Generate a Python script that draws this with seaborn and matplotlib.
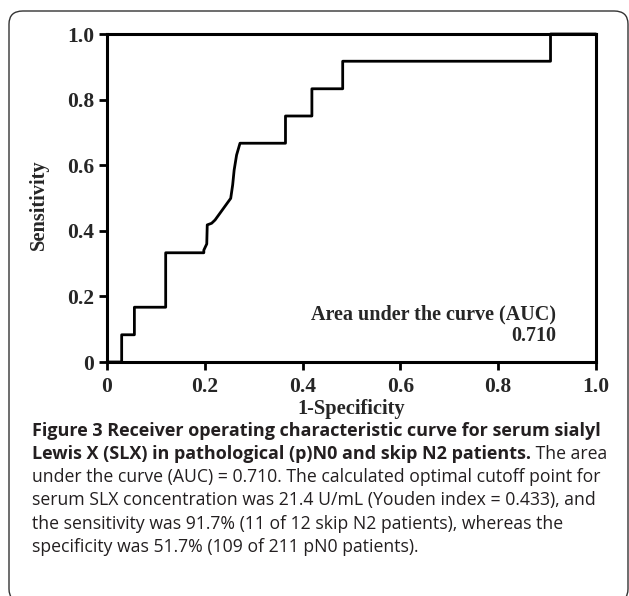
import matplotlib
matplotlib.use("Agg")
import matplotlib.pyplot as plt
import seaborn as sns
import pandas as pd
from matplotlib.patches import FancyBboxPatch

# ROC curve points (1-specificity, sensitivity)
fpr = [0.0, 0.030, 0.030, 0.056, 0.056, 0.120, 0.120, 0.198, 0.198, 0.204,
       0.205, 0.214, 0.221, 0.253, 0.257, 0.260, 0.265, 0.272, 0.365, 0.365,
       0.419, 0.419, 0.482, 0.482, 0.907, 0.907, 1.0]
tpr = [0.0, 0.0, 0.083, 0.083, 0.167, 0.167, 0.333, 0.333, 0.341, 0.36,
       0.418, 0.423, 0.433, 0.499, 0.54, 0.585, 0.631, 0.667, 0.667, 0.75,
       0.75, 0.833, 0.833, 0.917, 0.917, 1.0, 1.0]
ticks = [0, 0.2, 0.4, 0.6, 0.8, 1.0]
tick_labels = ["0", "0.2", "0.4", "0.6", "0.8", "1.0"]
auc_label = "Area under the curve (AUC)"
auc_value = "0.710"

caption_bold_1 = "Figure 3 Receiver operating characteristic curve for serum sialyl"
caption_bold_2 = "Lewis X (SLX) in pathological (p)N0 and skip N2 patients."
caption_rest_2 = " The area"
caption_lines = [
    "under the curve (AUC) = 0.710. The calculated optimal cutoff point for",
    "serum SLX concentration was 21.4 U/mL (Youden index = 0.433), and",
    "the sensitivity was 91.7% (11 of 12 skip N2 patients), whereas the",
    "specificity was 51.7% (109 of 211 pN0 patients).",
]

df = pd.DataFrame({"fpr": fpr, "tpr": tpr})

sns.set_style("ticks")
plt.rcParams["font.family"] = ["Liberation Serif", "DejaVu Serif"]

fig = plt.figure(figsize=(6.29, 5.96), dpi=100)
W, H = 629, 596

# rounded frame around the whole figure panel
frame = FancyBboxPatch((9 / W, -6 / H), 619 / W, (H - 11 + 6) / H,
                       boxstyle="round,pad=0,rounding_size=0.022",
                       transform=fig.transFigure, fill=False,
                       edgecolor="#333333", linewidth=1.0)
fig.patches.append(frame)

ax = fig.add_axes([107 / W, 1 - 362 / H, (596 - 107) / W, (362 - 34) / H])
sns.lineplot(data=df, x="fpr", y="tpr", sort=False, estimator=None,
             color="black", linewidth=2.0, ax=ax, clip_on=False)

ax.set_xlim(0, 1)
ax.set_ylim(0, 1)
ax.set_xticks(ticks)
ax.set_yticks(ticks)
ax.set_xticklabels(tick_labels, fontweight="bold", fontsize=15.5)
ax.set_yticklabels(tick_labels, fontweight="bold", fontsize=15.5)
ax.tick_params(length=6, width=2, pad=3, color="black")
ax.tick_params(axis="x", pad=5)
for s in ax.spines.values():
    s.set_visible(True)
    s.set_linewidth(2.2)
    s.set_color("black")

ax.set_xlabel("1-Specificity", fontweight="bold", fontsize=14.7, labelpad=1)
ax.set_ylabel("Sensitivity", fontweight="bold", fontsize=14.7)
ax.yaxis.set_label_coords(-0.118, 0.48)

ax.text(0.918, 0.145, auc_label, transform=ax.transAxes, ha="right",
        va="center", fontweight="bold", fontsize=14.5)
ax.text(0.918, 0.078, auc_value, transform=ax.transAxes, ha="right",
        va="center", fontweight="bold", fontsize=14.5)

# caption
cap_font = ["Open Sans", "DejaVu Sans"]
cap_size = 13
x0 = 32 / W
ys = [431, 454, 477, 500, 524, 547]
fig.text(x0, 1 - ys[0] / H, caption_bold_1, family=cap_font, fontsize=cap_size,
         fontweight="bold", va="center", color="#231f20")
t2 = fig.text(x0, 1 - ys[1] / H, caption_bold_2, family=cap_font,
              fontsize=cap_size, fontweight="bold", va="center", color="#231f20")
fig.add_artist(plt.Annotation(caption_rest_2, xy=(1, 0.5), xycoords=t2,
                              va="center", ha="left", family=cap_font,
                              fontsize=12.7, color="#231f20"))
for line, y in zip(caption_lines, ys[2:]):
    fig.text(x0, 1 - y / H, line, family=cap_font, fontsize=12.7,
             va="center", color="#231f20")

fig.savefig("out.png", dpi=100)
